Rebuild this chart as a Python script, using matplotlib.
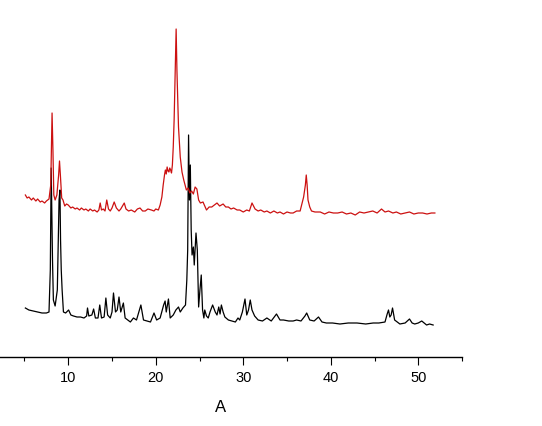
import matplotlib
matplotlib.use("Agg")
import matplotlib.pyplot as plt
from matplotlib.ticker import MultipleLocator

plt.rcParams['font.family'] = ['Liberation Sans', 'DejaVu Sans']

# Red pattern (upper trace): 2-theta and intensity (a.u.)
red_x = [5.1, 5.3, 5.5, 5.8, 6.0, 6.3, 6.5, 6.8, 7.0, 7.3, 7.5, 7.8, 8.0, 8.1, 8.15, 8.25, 8.35,
         8.5, 8.7, 8.9, 9.0, 9.1, 9.25, 9.4, 9.6, 9.8, 10.0, 10.3, 10.5, 10.8, 11.0, 11.3, 11.5,
         11.8, 12.0, 12.3, 12.5, 12.8, 13.0, 13.3, 13.5, 13.65, 13.8, 14.0, 14.2, 14.4, 14.6,
         14.8, 15.0, 15.25, 15.5, 15.8, 16.0, 16.4, 16.6, 16.9, 17.2, 17.6, 17.9, 18.2, 18.5,
         18.8, 19.1, 19.5, 19.8, 20.0, 20.3, 20.5, 20.7, 20.85, 21.0, 21.1, 21.2, 21.3, 21.4,
         21.5, 21.6, 21.7, 21.8, 21.9, 22.0, 22.1, 22.25, 22.33, 22.42, 22.6, 22.8, 23.0, 23.2,
         23.5, 23.7, 23.9, 24.1, 24.3, 24.5, 24.7, 24.9, 25.1, 25.4, 25.6, 25.8, 26.1, 26.4,
         26.7, 27.0, 27.3, 27.7, 28.0, 28.3, 28.6, 28.9, 29.3, 29.6, 30.0, 30.4, 30.7, 31.0,
         31.35, 31.7, 32.0, 32.4, 32.7, 33.1, 33.5, 33.9, 34.2, 34.6, 35.0, 35.4, 35.7, 36.1,
         36.5, 36.9, 37.1, 37.2, 37.3, 37.4, 37.6, 37.8, 38.2, 38.8, 39.3, 39.8, 40.3, 40.8,
         41.3, 41.8, 42.3, 42.8, 43.3, 43.8, 44.3, 44.8, 45.3, 45.8, 46.2, 46.6, 47.1, 47.5,
         48.0, 48.5, 49.0, 49.5, 50.0, 50.5, 51.0, 51.5, 51.9]
red_y = [162, 159, 160, 157, 159, 156, 158, 155, 156, 154, 156, 158, 172, 217, 244, 207, 162,
         157, 162, 182, 196, 182, 159, 157, 151, 153, 152, 149, 150, 148, 149, 147, 149,
         147, 148, 146, 148, 146, 147, 145, 147, 154, 147, 148, 146, 157, 148,
         146, 149, 155, 149, 146, 148, 154, 148, 146, 147, 145, 148, 149, 146,
         146, 148, 147, 146, 148, 147, 152, 160, 172, 182, 187, 183, 190, 186,
         185, 189, 187, 184, 192, 210, 237, 297, 328, 287, 230, 200, 185, 177,
         167, 169, 164, 166, 163, 170, 168, 157, 154, 155, 151, 147, 150, 150,
         152, 154, 151, 153, 150, 150, 148, 149, 147, 147, 145, 147, 146, 154,
         148, 146, 147, 145, 146, 144, 146, 144, 145, 143, 145, 144, 144, 146,
         146, 160, 172, 182, 172, 157, 150, 146, 145, 145, 143, 145, 144, 144,
         145, 143, 144, 142, 145, 144, 145, 146, 144, 148, 145, 146, 144, 145,
         143, 144, 145, 143, 144, 144, 143, 144, 144]

# Black pattern (lower trace)
black_x = [5.1, 5.5, 6.0, 6.5, 7.0, 7.5, 7.8, 7.95, 8.05, 8.2, 8.3, 8.5, 8.75, 8.95, 9.05,
           9.12, 9.2, 9.3, 9.45, 9.7, 10.04, 10.3, 10.6, 11.0, 11.4, 11.8, 12.1, 12.2, 12.35,
           12.7, 12.9, 13.1, 13.4, 13.6, 13.8, 14.1, 14.3, 14.5, 14.8, 15.0, 15.17, 15.4,
           15.6, 15.8, 16.0, 16.3, 16.5, 16.8, 17.1, 17.45, 17.8, 18.3, 18.6, 19.0, 19.4,
           19.8, 20.1, 20.5, 20.9, 21.07, 21.2, 21.45, 21.65, 22.0, 22.3, 22.6, 22.8, 23.1,
           23.4, 23.55, 23.65, 23.75, 23.85, 23.95, 24.05, 24.15, 24.3, 24.4, 24.6, 24.75,
           24.9, 25.05, 25.2, 25.35, 25.5, 25.6, 25.8, 26.0, 26.2, 26.5, 26.8, 27.0, 27.2,
           27.35, 27.5, 27.7, 27.9, 28.3, 28.7, 29.1, 29.4, 29.6, 29.9, 30.2, 30.4, 30.6,
           30.8, 31.0, 31.3, 31.7, 32.2, 32.7, 33.2, 33.8, 34.2, 34.6, 35.2, 35.7, 36.1,
           36.6, 37.05, 37.25, 37.6, 38.1, 38.6, 39.0, 39.5, 40.2, 41.05, 42.0, 43.0, 44.0,
           44.85, 45.5, 46.2, 46.45, 46.6, 46.75, 46.9, 47.06, 47.3, 47.9, 48.5, 49.0, 49.3,
           49.6, 50.0, 50.4, 50.95, 51.3, 51.7]
black_y = [49, 47, 46, 45, 44, 44, 45, 87, 189, 97, 57, 51, 67, 157, 167,
           117, 87, 67, 45, 44, 47, 42, 41, 40, 40, 39, 41, 49, 41,
           42, 48, 39, 39, 52, 39, 40, 59, 42, 39, 45, 64, 45,
           47, 60, 45, 54, 39, 37, 35, 39, 37, 52, 37, 36, 35,
           44, 37, 39, 52, 56, 45, 58, 39, 42, 47, 50, 45, 49,
           52, 77, 107, 222, 157, 192, 127, 102, 110, 92, 124, 107,
           50, 67, 82, 47, 39, 47, 41, 39, 45, 52, 45, 42, 50,
           43, 52, 45, 40, 37, 36, 35, 39, 37, 45, 58, 42, 47,
           57, 47, 41, 37, 36, 39, 36, 43, 37, 37, 36, 36, 37,
           36, 41, 44, 37, 36, 40, 35, 34, 34, 33, 34, 34, 33,
           34, 34, 35, 43, 47, 40, 42, 49, 37, 33, 34, 38, 34,
           33, 34, 36, 32, 33, 32]

xticks = [10, 20, 30, 40, 50]
x_label = "A"

fig = plt.figure(figsize=(5.42, 4.26), dpi=100)
ax = fig.add_axes([0.0, 1 - 357 / 426, 462 / 542, 357 / 426])
ax.plot(black_x, black_y, color="black", lw=0.9)
ax.plot(red_x, red_y, color="#cc1111", lw=0.9)

ax.set_xlim(2.2, 55.0)
ax.set_ylim(0, 357)
for s in ("left", "right", "top"):
    ax.spines[s].set_visible(False)
ax.spines["bottom"].set_linewidth(1.0)
ax.set_yticks([])
ax.set_xticks(xticks)
ax.xaxis.set_minor_locator(MultipleLocator(5))
ax.tick_params(axis="x", which="major", length=6, width=0.8, labelsize=10.5, pad=4,
               colors="black")
ax.tick_params(axis="x", which="minor", length=3, width=0.8)
ax.text(27.4, -50, x_label, ha="center", va="center", fontsize=12)

fig.savefig("out.png", dpi=100)
